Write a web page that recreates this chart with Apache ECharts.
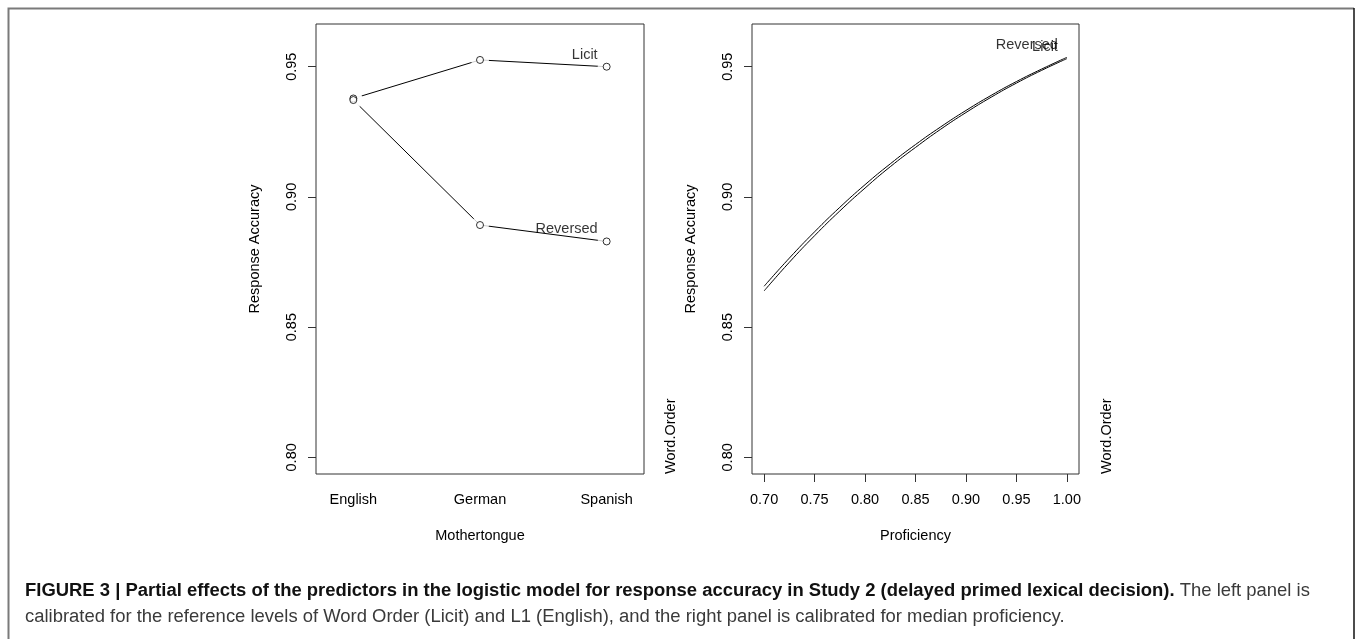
<!DOCTYPE html>
<html><head><meta charset="utf-8">
<script src="https://cdn.jsdelivr.net/npm/echarts@6/dist/echarts.min.js"></script>
<style>html,body{margin:0;padding:0;background:#fff}#c{width:1355px;height:639px}</style>
</head><body><div id="c"></div>
<script>
// ---- data ----
const motherTongues = ['English', 'German', 'Spanish'];
const licitByL1 = [0.9378, 0.9526, 0.9500];
const reversedByL1 = [0.9372, 0.8892, 0.8829];

const proficiency = [0.700, 0.725, 0.750, 0.775, 0.800, 0.825, 0.850, 0.875, 0.900, 0.925, 0.950, 0.975, 1.000];
const licitByProf = [0.8639, 0.8749, 0.8851, 0.8946, 0.9034, 0.9116, 0.9190, 0.9260, 0.9324, 0.9383, 0.9437, 0.9486, 0.9531];
const reversedByProf = [0.8657, 0.8765, 0.8866, 0.8960, 0.9047, 0.9127, 0.9201, 0.9269, 0.9332, 0.9390, 0.9443, 0.9491, 0.9536];

const yTicks = [0.80, 0.85, 0.90, 0.95];
const profTicks = [0.70, 0.75, 0.80, 0.85, 0.90, 0.95, 1.00];
const seriesNames = ['Licit', 'Reversed'];

// ---- chart ----
const FONT = 'Liberation Sans, Arial, Helvetica, sans-serif';
const FS = 14.5;
const CAP = 18.45;
const chart = echarts.init(document.getElementById('c'), null, {renderer: 'canvas'});

function yAxisCfg(gridIndex) {
  return {
    type: 'value', gridIndex, min: 0.7936, max: 0.9664,
    splitLine: {show: false},
    axisLine: {show: false},
    axisTick: {show: true, length: 8, inside: false, customValues: yTicks, lineStyle: {color: '#333', width: 1}},
    axisLabel: {customValues: yTicks, rotate: 90, margin: 17, formatter: v => v.toFixed(2),
      fontSize: FS, fontFamily: FONT, color: '#000'},
    name: 'Response Accuracy', nameLocation: 'middle', nameGap: 54,
    nameTextStyle: {fontSize: FS, fontFamily: FONT, color: '#000'}
  };
}

const lineStyle = {color: '#000', width: 1};
const labelStyle = {show: true, fontSize: FS, fontFamily: FONT, color: '#000',
  position: [-8.5, -11.5], align: 'right', verticalAlign: 'middle', formatter: p => p.name};

const l1Licit = motherTongues.map((c, i) => [i + 1, licitByL1[i]]);
const l1Rev = motherTongues.map((c, i) => [i + 1, reversedByL1[i]]);
const profLicit = proficiency.map((p, i) => [p, licitByProf[i]]);
const profRev = proficiency.map((p, i) => [p, reversedByProf[i]]);
const last = arr => arr[arr.length - 1];

const option = {
  backgroundColor: '#fff',
  animation: false,
  grid: [
    {left: 316, top: 24, width: 328, height: 450, show: true, borderColor: '#333', borderWidth: 1, backgroundColor: 'transparent'},
    {left: 752, top: 24, width: 327, height: 450, show: true, borderColor: '#333', borderWidth: 1, backgroundColor: 'transparent'}
  ],
  xAxis: [
    {type: 'value', gridIndex: 0, min: 0.705, max: 3.295,
      splitLine: {show: false}, axisLine: {show: false}, axisTick: {show: false},
      axisLabel: {customValues: [1, 2, 3], formatter: v => motherTongues[Math.round(v) - 1], margin: 18,
        fontSize: FS, fontFamily: FONT, color: '#000'},
      name: 'Mothertongue', nameLocation: 'middle', nameGap: 54,
      nameTextStyle: {fontSize: FS, fontFamily: FONT, color: '#000'}},
    {type: 'value', gridIndex: 1, min: 0.688, max: 1.012,
      splitLine: {show: false}, axisLine: {show: false},
      axisTick: {show: true, length: 8, customValues: profTicks, lineStyle: {color: '#333', width: 1}},
      axisLabel: {customValues: profTicks, formatter: v => v.toFixed(2), margin: 18,
        fontSize: FS, fontFamily: FONT, color: '#000'},
      name: 'Proficiency', nameLocation: 'middle', nameGap: 54,
      nameTextStyle: {fontSize: FS, fontFamily: FONT, color: '#000'}}
  ],
  yAxis: [yAxisCfg(0), yAxisCfg(1)],
  series: [
    {type: 'line', name: 'Licit', xAxisIndex: 0, yAxisIndex: 0, data: l1Licit, showSymbol: false, lineStyle, z: 2, silent: true},
    {type: 'line', name: 'Reversed', xAxisIndex: 0, yAxisIndex: 0, data: l1Rev, showSymbol: false, lineStyle, z: 2, silent: true},
    {type: 'scatter', xAxisIndex: 0, yAxisIndex: 0, data: l1Licit.concat(l1Rev), symbol: 'circle', symbolSize: 18,
      itemStyle: {color: '#fff'}, z: 3, silent: true},
    {type: 'scatter', xAxisIndex: 0, yAxisIndex: 0, data: l1Licit.concat(l1Rev), symbol: 'circle', symbolSize: 7,
      itemStyle: {color: '#fff', borderColor: '#000', borderWidth: 1}, z: 4, silent: true},
    {type: 'scatter', xAxisIndex: 0, yAxisIndex: 0, symbolSize: 1, itemStyle: {color: 'rgba(0,0,0,0)'}, z: 5, silent: true,
      data: [{name: seriesNames[0], value: last(l1Licit)}, {name: seriesNames[1], value: last(l1Rev)}], label: labelStyle},

    {type: 'line', name: 'Licit', xAxisIndex: 1, yAxisIndex: 1, data: profLicit, showSymbol: false, smooth: true, lineStyle, z: 2, silent: true},
    {type: 'line', name: 'Reversed', xAxisIndex: 1, yAxisIndex: 1, data: profRev, showSymbol: false, smooth: true, lineStyle, z: 2, silent: true},
    {type: 'scatter', xAxisIndex: 1, yAxisIndex: 1, symbolSize: 1, itemStyle: {color: 'rgba(0,0,0,0)'}, z: 5, silent: true,
      data: [{name: seriesNames[1], value: last(profRev)}, {name: seriesNames[0], value: last(profLicit)}], label: labelStyle}
  ],
  graphic: [
    {type: 'text', x: 671, y: 474, rotation: Math.PI / 2, silent: true,
      style: {text: 'Word.Order', fontSize: FS, fontFamily: FONT, fill: '#000', align: 'left', verticalAlign: 'middle'}},
    {type: 'text', x: 1107, y: 474, rotation: Math.PI / 2, silent: true,
      style: {text: 'Word.Order', fontSize: FS, fontFamily: FONT, fill: '#000', align: 'left', verticalAlign: 'middle'}},
    {type: 'polyline', silent: true, shape: {points: [[8.5, 639], [8.5, 8.5], [1354, 8.5]]},
      style: {stroke: '#7a7a7a', lineWidth: 2, fill: null}},
    {type: 'line', silent: true, shape: {x1: 1354, y1: 8, x2: 1354, y2: 639}, style: {stroke: '#111', lineWidth: 1.5}},
    {type: 'text', x: 25, y: 591, silent: true,
      style: {text: '{b|FIGURE 3 | Partial effects of the predictors in the logistic model for response accuracy in Study 2 (delayed primed lexical decision).}{r| The left panel is}',
        align: 'left', verticalAlign: 'middle',
        rich: {b: {fontSize: CAP, fontWeight: 'bold', fontFamily: FONT, fill: '#111'},
               r: {fontSize: CAP, fontFamily: FONT, fill: '#3a3a3a'}}}},
    {type: 'text', x: 25, y: 617, silent: true,
      style: {text: 'calibrated for the reference levels of Word Order (Licit) and L1 (English), and the right panel is calibrated for median proficiency.',
        align: 'left', verticalAlign: 'middle', fontSize: CAP, fontFamily: FONT, fill: '#3a3a3a'}}
  ]
};
chart.setOption(option);
</script>
</body></html>
